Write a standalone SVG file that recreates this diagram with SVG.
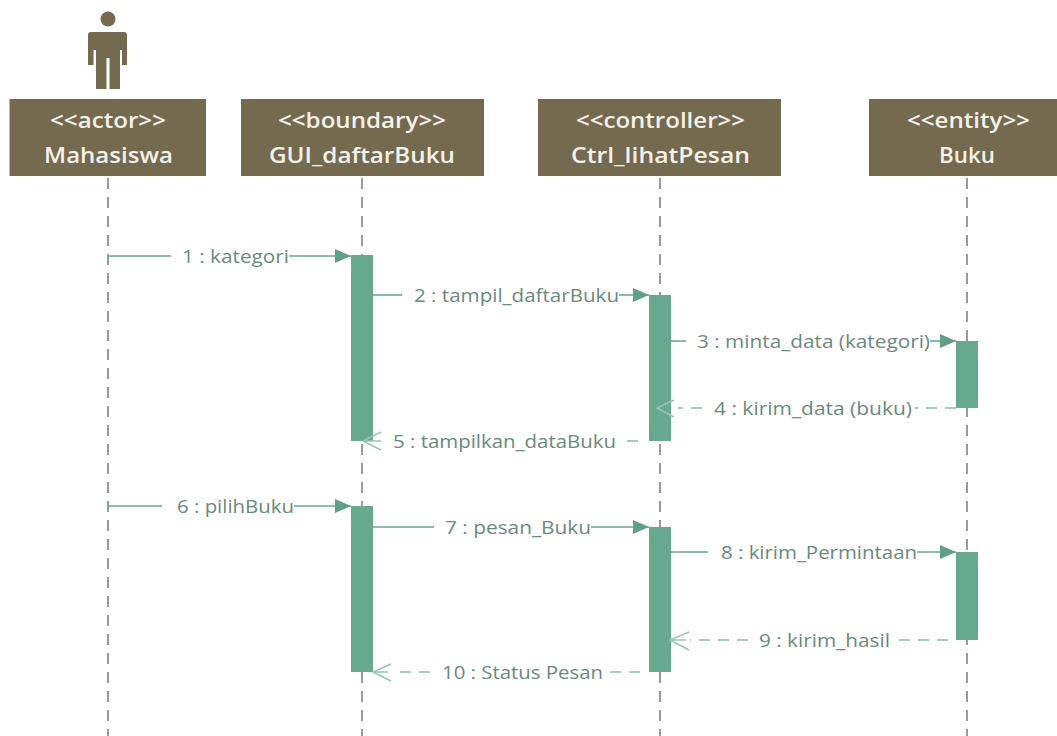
<svg xmlns="http://www.w3.org/2000/svg" width="1057" height="736" viewBox="0 0 1057 736">
<defs>
<marker id="solid" markerUnits="userSpaceOnUse" markerWidth="18" markerHeight="18" refX="16" refY="9" orient="auto"><path d="M0,2 L16,9 L0,16 Z" fill="#5f9f88"/></marker>
</defs>
<style>
.head{fill:#736a50}
.ht{font-family:"Open Sans","Noto Sans",sans-serif;font-size:21px;font-weight:600;fill:#f4f1e8}
.life{stroke:#9a9a9a;stroke-width:2;stroke-dasharray:11 8;fill:none}
.act{fill:#66a98f}
.msg{stroke:#6ba892;stroke-width:1.6;fill:none}
.ret{stroke:#a8cbbd;stroke-width:2;stroke-dasharray:11 8;fill:none}
.open{stroke:#9cc4b5;stroke-width:1.5;fill:none}
.lbl{font-family:"Open Sans","Noto Sans",sans-serif;font-size:19px;fill:#6a8a80}
</style>
<rect width="1057" height="736" fill="#ffffff"/>
<g id="lifelines">
<line class="life" x1="108" y1="178" x2="108" y2="736"/>
<line class="life" x1="362" y1="178" x2="362" y2="736"/>
<line class="life" x1="660" y1="178" x2="660" y2="736"/>
<line class="life" x1="967" y1="178" x2="967" y2="736"/>
</g>
<g id="actor-figure" fill="#736a50">
<circle cx="108" cy="19" r="7.500"/>
<path d="M91,32 H124 Q127,32 127,35 V65 H122 V50 H120 V89 H109.500 V58 H106.500 V89 H96 V50 H93.500 V65 H88 V35 Q88,32 91,32 Z"/>
</g>
<g id="node-mahasiswa"><rect class="head" x="9.500" y="99" width="196.500" height="77"/><text class="ht" x="50" y="128" textLength="116" lengthAdjust="spacingAndGlyphs">&lt;&lt;actor&gt;&gt;</text><text class="ht" x="44" y="163" textLength="129" lengthAdjust="spacingAndGlyphs">Mahasiswa</text></g>
<g id="node-gui"><rect class="head" x="241" y="99" width="243" height="77"/><text class="ht" x="278" y="128" textLength="168" lengthAdjust="spacingAndGlyphs">&lt;&lt;boundary&gt;&gt;</text><text class="ht" x="269" y="163" textLength="186" lengthAdjust="spacingAndGlyphs">GUI_daftarBuku</text></g>
<g id="node-ctrl"><rect class="head" x="538" y="99" width="243" height="77"/><text class="ht" x="576" y="128" textLength="169" lengthAdjust="spacingAndGlyphs">&lt;&lt;controller&gt;&gt;</text><text class="ht" x="571" y="163" textLength="179" lengthAdjust="spacingAndGlyphs">Ctrl_lihatPesan</text></g>
<g id="node-buku"><rect class="head" x="869" y="99" width="188" height="77"/><text class="ht" x="907" y="128" textLength="123" lengthAdjust="spacingAndGlyphs">&lt;&lt;entity&gt;&gt;</text><text class="ht" x="939" y="163" textLength="56" lengthAdjust="spacingAndGlyphs">Buku</text></g>
<g id="activations">
<rect class="act" x="351" y="255" width="22" height="186"/>
<rect class="act" x="649" y="295" width="22" height="146"/>
<rect class="act" x="956" y="341" width="22" height="67"/>
<rect class="act" x="351" y="506" width="22" height="166"/>
<rect class="act" x="649" y="527" width="22" height="145"/>
<rect class="act" x="956" y="552" width="22" height="88"/>
</g>
<g id="connectors">
<path class="msg" d="M108,256 H171"/><path class="msg" d="M289,256 H351" marker-end="url(#solid)"/>
<path class="msg" d="M373,295 H402"/><path class="msg" d="M619,295 H649" marker-end="url(#solid)"/>
<path class="msg" d="M671,341 H686"/><path class="msg" d="M930,341 H956" marker-end="url(#solid)"/>
<path class="ret" d="M956,408 H915"/><path class="ret" d="M702,408 H678"/>
<path class="open" d="M674,400 L657,408 L674,417"/>
<path class="ret" d="M638,441 H624"/><path class="open" d="M381,432 L363,441 L381,450 M363,441 H381"/>
<path class="msg" d="M108,506 H162"/><path class="msg" d="M294,506 H351" marker-end="url(#solid)"/>
<path class="msg" d="M373,527 H434"/><path class="msg" d="M591,527 H649" marker-end="url(#solid)"/>
<path class="msg" d="M671,552 H708"/><path class="msg" d="M917,552 H956" marker-end="url(#solid)"/>
<path class="ret" d="M948,640 H892"/><path class="ret" d="M748,640 H690"/>
<path class="open" d="M689,632 L670,640 L689,650 M670,640 H686"/>
<path class="ret" d="M640,672 H604"/><path class="ret" d="M430,672 H392"/>
<path class="open" d="M391,664 L373,672 L391,681 M373,672 H388"/>
</g>
<g id="labels">
<text class="lbl" x="182" y="263" textLength="107" lengthAdjust="spacingAndGlyphs">1 : kategori</text>
<text class="lbl" x="414" y="302" textLength="205" lengthAdjust="spacingAndGlyphs">2 : tampil_daftarBuku</text>
<text class="lbl" x="697" y="348" textLength="233" lengthAdjust="spacingAndGlyphs">3 : minta_data (kategori)</text>
<text class="lbl" x="714" y="415" textLength="198" lengthAdjust="spacingAndGlyphs">4 : kirim_data (buku)</text>
<text class="lbl" x="393" y="448" textLength="223" lengthAdjust="spacingAndGlyphs">5 : tampilkan_dataBuku</text>
<text class="lbl" x="177" y="513" textLength="117" lengthAdjust="spacingAndGlyphs">6 : pilihBuku</text>
<text class="lbl" x="445" y="534" textLength="146" lengthAdjust="spacingAndGlyphs">7 : pesan_Buku</text>
<text class="lbl" x="721" y="559" textLength="196" lengthAdjust="spacingAndGlyphs">8 : kirim_Permintaan</text>
<text class="lbl" x="759" y="647" textLength="131" lengthAdjust="spacingAndGlyphs">9 : kirim_hasil</text>
<text class="lbl" x="442" y="679" textLength="161" lengthAdjust="spacingAndGlyphs">10 : Status Pesan</text>
</g>
</svg>
